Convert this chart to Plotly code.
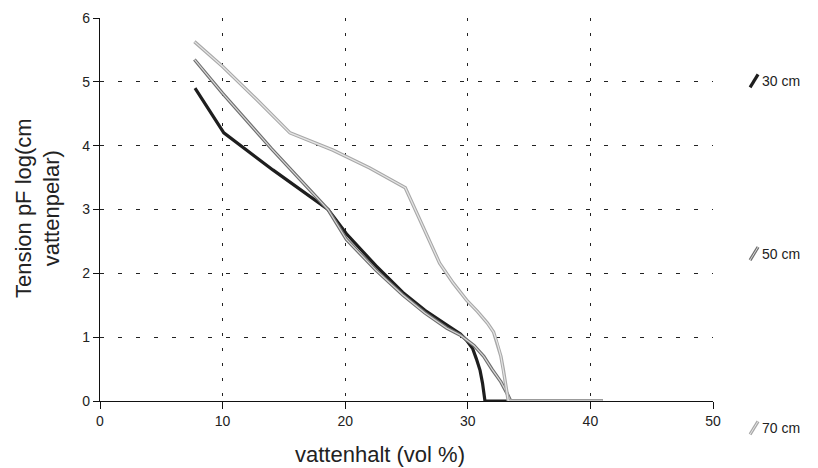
import plotly.graph_objects as go

# 30 cm series
x30 = [7.75, 10.1, 14.1, 18.6, 20.1, 22.5, 24.7, 26.5, 28.3, 29.4, 29.9, 30.4, 30.7, 31.0, 31.2, 31.4, 41.0]
y30 = [4.9, 4.2, 3.62, 3.0, 2.62, 2.12, 1.7, 1.42, 1.19, 1.05, 0.95, 0.82, 0.66, 0.48, 0.28, 0.0, 0.0]
# 50 cm series
x50 = [7.7, 10.0, 14.0, 18.6, 20.1, 22.5, 24.7, 26.5, 28.3, 29.4, 30.5, 31.3, 32.0, 32.7, 33.2, 33.5, 41.0]
y50 = [5.35, 4.82, 3.95, 3.0, 2.53, 2.05, 1.66, 1.38, 1.14, 1.03, 0.87, 0.7, 0.49, 0.3, 0.12, 0.0, 0.0]
# 70 cm series
x70 = [7.7, 10.0, 12.8, 15.5, 19.0, 22.0, 24.9, 26.3, 27.7, 28.8, 29.9, 30.8, 31.6, 32.1, 32.4, 32.7, 32.9, 33.1, 33.3, 41.0]
y70 = [5.63, 5.24, 4.72, 4.2, 3.93, 3.65, 3.34, 2.75, 2.16, 1.85, 1.58, 1.4, 1.22, 1.08, 0.91, 0.7, 0.49, 0.25, 0.0, 0.0]

labels = ["30 cm", "50 cm", "70 cm"]
x_ticks = [0, 10, 20, 30, 40, 50]
y_ticks = [0, 1, 2, 3, 4, 5, 6]
x_title = "vattenhalt (vol %)"
y_title = "Tension pF log(cm<br>vattenpelar)"

FONT = "Liberation Sans, Arial, sans-serif"

fig = go.Figure()
series = [(x30, y30, "#1e1e1e", 3.2, None),
          (x50, y50, "#6e6e6e", 3.4, "#d8d8d8"),
          (x70, y70, "#a8a8a8", 3.4, "#e6e6e6")]
for i, (xs, ys, col, w, inner) in enumerate(series):
    fig.add_trace(go.Scatter(x=xs, y=ys, mode="lines", name=labels[i],
                             line=dict(color=col, width=w), showlegend=False))
    if inner:
        fig.add_trace(go.Scatter(x=xs, y=ys, mode="lines", name=labels[i],
                                 line=dict(color=inner, width=1.2),
                                 showlegend=False, hoverinfo="skip"))

# legend built from annotations + small slanted glyphs (paper coords)
leg_y = [0.836, 0.385, -0.07]  # vertical centre of each entry, paper fraction
for i, (lab, ly) in enumerate(zip(labels, leg_y)):
    col, inner = series[i][2], series[i][4]
    fig.add_shape(type="line", xref="paper", yref="paper",
                  x0=1.0605, y0=ly - 0.017, x1=1.0735, y1=ly + 0.017,
                  line=dict(color=col, width=3.2))
    if inner:
        fig.add_shape(type="line", xref="paper", yref="paper",
                      x0=1.0605, y0=ly - 0.017, x1=1.0735, y1=ly + 0.017,
                      line=dict(color=inner, width=1.0))
    fig.add_annotation(text=lab, xref="paper", yref="paper", x=1.077, y=ly,
                       xanchor="left", yanchor="middle", showarrow=False,
                       font=dict(size=14, family=FONT, color="#222"))

# axis titles (placed as in the original)
fig.add_annotation(text=x_title, xref="paper", yref="paper", x=0.457, y=-0.139,
                   xanchor="center", yanchor="middle", showarrow=False,
                   font=dict(size=22, family=FONT, color="#222"))
fig.add_annotation(text=y_title, xref="paper", yref="paper", x=-0.102, y=0.505,
                   xanchor="center", yanchor="middle", showarrow=False, textangle=-90,
                   font=dict(size=22, family=FONT, color="#222"))

fig.update_layout(
    width=810, height=460,
    margin=dict(l=92, r=105, t=10, b=67),
    paper_bgcolor="white", plot_bgcolor="white",
    font=dict(family=FONT, size=14, color="#111"),
    showlegend=False,
    xaxis=dict(range=[0, 50], tickvals=x_ticks, ticktext=[str(v) for v in x_ticks],
               showline=True, linecolor="#111", linewidth=1.2,
               ticks="outside", ticklen=7, tickcolor="#111",
               tickfont=dict(size=14, family=FONT, color="#222"),
               showgrid=True, gridcolor="#222", gridwidth=1, griddash="3px,12px",
               zeroline=False, automargin=False),
    yaxis=dict(range=[0, 6], tickvals=y_ticks, ticktext=[str(v) for v in y_ticks],
               showline=True, linecolor="#111", linewidth=1.2,
               ticks="outside", ticklen=6, tickcolor="#111",
               tickfont=dict(size=14, family=FONT, color="#222"),
               showgrid=True, gridcolor="#222", gridwidth=1, griddash="4px,14px",
               zeroline=False, automargin=False),
)

fig.write_html("out.html")
